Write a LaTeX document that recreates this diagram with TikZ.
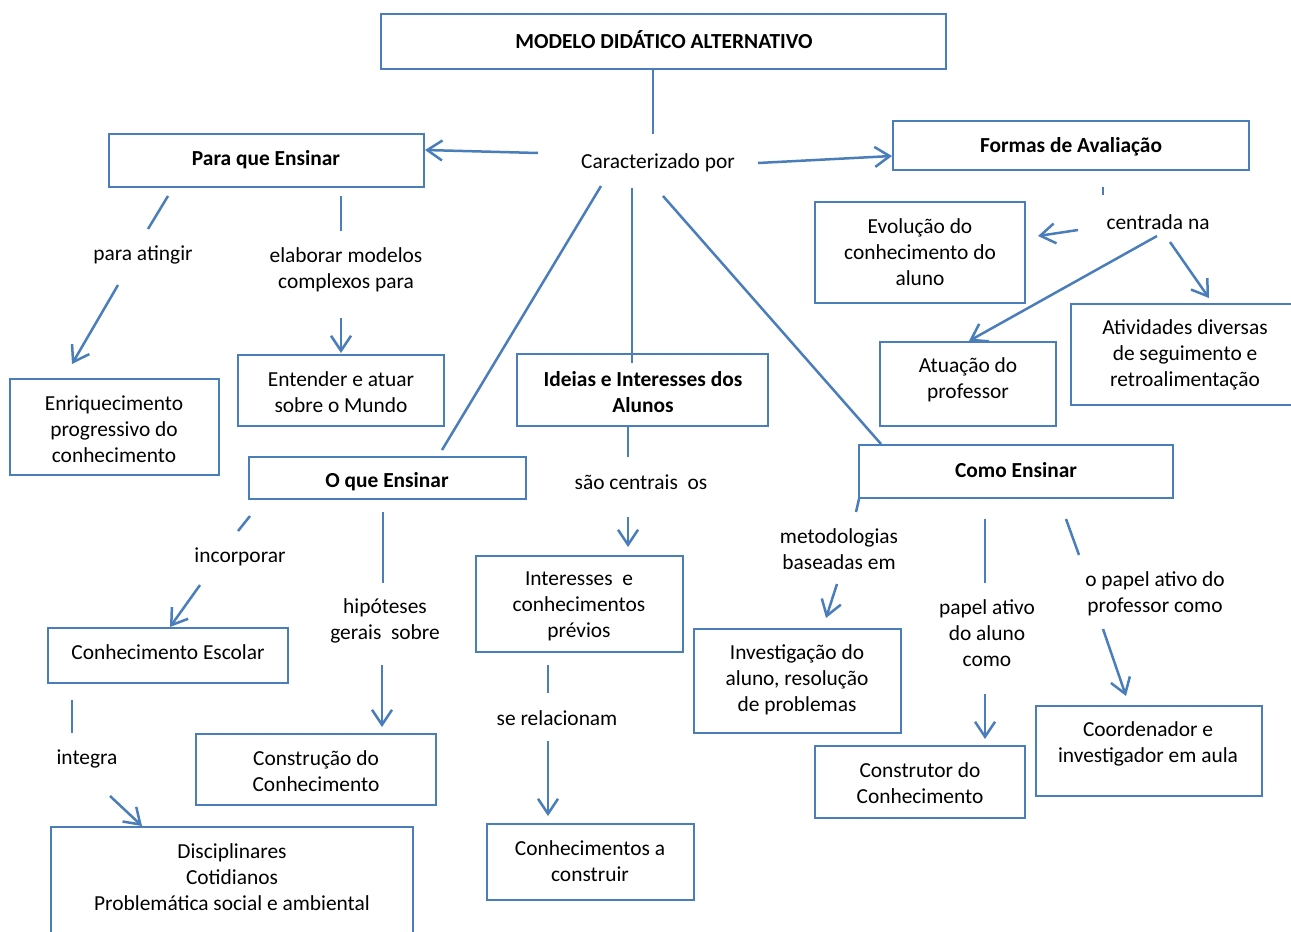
\documentclass[tikz,border=0pt]{standalone}
\usepackage{fontspec}
\setmainfont{Carlito}
\usetikzlibrary{arrows.meta,fit}
\definecolor{lnk}{RGB}{74,126,187}
\begin{document}
\begin{tikzpicture}[x=1pt,y=-1pt,
  box/.style={draw=lnk, line width=2pt, rectangle, inner sep=0pt},
  txt/.style={font=\fontsize{21.4}{26}\selectfont, align=center, inner sep=0pt, text=black, yshift=-1.5pt},
  btxt/.style={txt, font=\fontsize{21.4}{26}\selectfont\bfseries},
  ln/.style={draw=lnk, line width=2.5pt},
  arr/.style={ln, -{Straight Barb[length=15pt,width=20pt,line width=2.5pt]}}]
\useasboundingbox[fill=white] (0,0) rectangle (1291,932);

% ---------- boxes ----------
\node[box, fit={(381,14) (946,69)}] (top) {};
\node[box, fit={(109,134) (424,187)}] (pq) {};
\node[box, fit={(893,121) (1249,170)}] (fa) {};
\node[box, fit={(10,379) (219,475)}] (enr) {};
\node[box, fit={(238,355) (444,426)}] (ent) {};
\node[box, fit={(249,457) (526,499)}] (oq) {};
\node[box, fit={(48,628) (288,683)}] (ce) {};
\node[box, fit={(196,734) (436,805)}] (cc) {};
\node[box, fit={(51,827) (413,960)}] (dis) {};
\node[box, fit={(517,354) (768,426)}] (ide) {};
\node[box, fit={(476,556) (683,652)}] (int) {};
\node[box, fit={(487,824) (694,900)}] (cac) {};
\node[box, fit={(859,445) (1173,498)}] (como) {};
\node[box, fit={(694,629) (901,733)}] (inv) {};
\node[box, fit={(815,746) (1025,818)}] (con) {};
\node[box, fit={(1036,706) (1262,796)}] (coo) {};
\node[box, fit={(815,202) (1025,303)}] (evo) {};
\node[box, fit={(880,342) (1056,426)}] (atu) {};
\node[box, fit={(1071,304) (1330,405)}] (ati) {};

% ---------- box texts ----------
\node[btxt] (top-t) at (664,38) {MODELO DIDÁTICO ALTERNATIVO};
\node[btxt] (pq-t) at (266,158) {Para que Ensinar};
\node[btxt] (fa-t) at (1071,145) {Formas de Avaliação};
\node[txt] (enr-t) at (114,428) {Enriquecimento\\progressivo do\\conhecimento};
\node[txt] (ent-t) at (341,391) {Entender e atuar\\sobre o Mundo};
\node[btxt] (oq-t) at (387,480) {O que Ensinar};
\node[txt] (ce-t) at (168,651) {Conhecimento Escolar};
\node[txt] (cc-t) at (316,770) {Construção do\\Conhecimento};
\node[txt] (dis-t) at (232,876) {Disciplinares\\Cotidianos\\Problemática social e ambiental};
\node[btxt] (ide-t) at (643,391) {Ideias e Interesses dos\\Alunos};
\node[txt] (int-t) at (579,605) {Interesses~~e\\conhecimentos\\prévios};
\node[txt] (cac-t) at (590,860) {Conhecimentos a\\construir};
\node[btxt] (como-t) at (1016,469) {Como Ensinar};
\node[txt] (inv-t) at (797,678) {Investigação do\\aluno, resolução\\de problemas};
\node[txt] (con-t) at (920,782) {Construtor do\\Conhecimento};
\node[txt] (coo-t) at (1148,742) {Coordenador e\\investigador em aula};
\node[txt] (evo-t) at (920,251) {Evolução do\\conhecimento do\\aluno};
\node[txt] (atu-t) at (968,378) {Atuação do\\professor};
\node[txt] (ati-t) at (1185,353) {Atividades diversas\\de seguimento e\\retroalimentação};

% ---------- link phrases ----------
\node[txt] (car) at (658,161) {Caracterizado por};
\node[txt] (l-ati) at (143,253) {para atingir};
\node[txt] (l-ela) at (346,268) {elaborar modelos\\complexos para};
\node[txt] (l-inc) at (240,555) {incorporar};
\node[txt] (l-hip) at (385,619) {hipóteses\\gerais~~sobre};
\node[txt] (l-int) at (87,757) {integra};
\node[txt] (l-sao) at (641,481) {são centrais~~os};
\node[txt] (l-rel) at (557,717) {se relacionam};
\node[txt] (l-met) at (839,548) {metodologias\\baseadas em};
\node[txt] (l-pal) at (987,632) {papel ativo\\do aluno\\como};
\node[txt] (l-ppr) at (1155,592) {o papel ativo do\\professor como};
\node[txt] (l-cen) at (1158,221) {centrada na};

% ---------- connector ends ----------
\coordinate (c1a) at (653,69);   \coordinate (c1b) at (653,134);
\coordinate (c2a) at (538,153);  \coordinate (c2b) at (425,150);
\coordinate (c3a) at (758,163);  \coordinate (c3b) at (892,156);
\coordinate (c4a) at (601,186);  \coordinate (c4b) at (442,450);
\coordinate (c5a) at (632,188);  \coordinate (c5b) at (632,363);
\coordinate (c6a) at (663,196);  \coordinate (c6b) at (881,444);
\coordinate (p1a) at (168,196);  \coordinate (p1b) at (148,229);
\coordinate (p2a) at (118,285);  \coordinate (p2b) at (72,364);
\coordinate (p3a) at (341,196);  \coordinate (p3b) at (341,231);
\coordinate (p4a) at (341,318);  \coordinate (p4b) at (341,353);
\coordinate (o1a) at (250,516);  \coordinate (o1b) at (238,531);
\coordinate (o2a) at (200,585);  \coordinate (o2b) at (170,627);
\coordinate (o3a) at (383,512);  \coordinate (o3b) at (383,583);
\coordinate (o4a) at (382,665);  \coordinate (o4b) at (382,727);
\coordinate (o5a) at (72,700);   \coordinate (o5b) at (72,733);
\coordinate (o6a) at (110,796);  \coordinate (o6b) at (142,826);
\coordinate (i1a) at (628,427);  \coordinate (i1b) at (628,457);
\coordinate (i2a) at (628,517);  \coordinate (i2b) at (628,547);
\coordinate (i3a) at (548,665);  \coordinate (i3b) at (548,693);
\coordinate (i4a) at (548,741);  \coordinate (i4b) at (548,816);
\coordinate (m1a) at (859,499);  \coordinate (m1b) at (856,512);
\coordinate (m2a) at (837,584);  \coordinate (m2b) at (826,618);
\coordinate (m3a) at (985,519);  \coordinate (m3b) at (985,583);
\coordinate (m4a) at (985,694);  \coordinate (m4b) at (985,739);
\coordinate (m5a) at (1066,519); \coordinate (m5b) at (1079,555);
\coordinate (m6a) at (1103,629); \coordinate (m6b) at (1126,696);
\coordinate (f1a) at (1103,187); \coordinate (f1b) at (1103,195);
\coordinate (f2a) at (1078,230); \coordinate (f2b) at (1038,236);
\coordinate (f3a) at (1157,236); \coordinate (f3b) at (969,341);
\coordinate (f4a) at (1170,242); \coordinate (f4b) at (1209,298);

% ---------- connectors ----------
\draw[ln]  (c1a) -- (c1b);
\draw[arr] (c2a) -- (c2b);
\draw[arr] (c3a) -- (c3b);
\draw[ln]  (c4a) -- (c4b);
\draw[ln]  (c5a) -- (c5b);
\draw[ln]  (c6a) -- (c6b);
\draw[ln]  (p1a) -- (p1b);
\draw[arr] (p2a) -- (p2b);
\draw[ln]  (p3a) -- (p3b);
\draw[arr] (p4a) -- (p4b);
\draw[ln]  (o1a) -- (o1b);
\draw[arr] (o2a) -- (o2b);
\draw[ln]  (o3a) -- (o3b);
\draw[arr] (o4a) -- (o4b);
\draw[ln]  (o5a) -- (o5b);
\draw[arr] (o6a) -- (o6b);
\draw[ln]  (i1a) -- (i1b);
\draw[arr] (i2a) -- (i2b);
\draw[ln]  (i3a) -- (i3b);
\draw[arr] (i4a) -- (i4b);
\draw[ln]  (m1a) -- (m1b);
\draw[arr] (m2a) -- (m2b);
\draw[ln]  (m3a) -- (m3b);
\draw[arr] (m4a) -- (m4b);
\draw[ln]  (m5a) -- (m5b);
\draw[arr] (m6a) -- (m6b);
\draw[ln]  (f1a) -- (f1b);
\draw[arr] (f2a) -- (f2b);
\draw[arr] (f3a) -- (f3b);
\draw[arr] (f4a) -- (f4b);
\end{tikzpicture}
\end{document}
